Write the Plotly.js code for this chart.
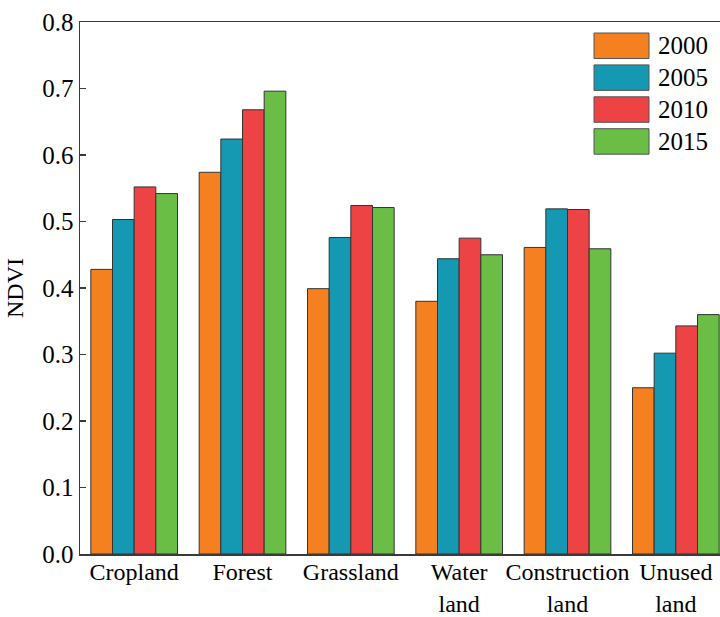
<!DOCTYPE html>
<html>
<head>
<meta charset="utf-8">
<script src="https://cdn.plot.ly/plotly-3.0.1.min.js"></script>
<style>
  html, body { margin: 0; padding: 0; overflow: hidden; background: #fff; }
  #chart { width: 740px; height: 617px; }
</style>
</head>
<body>
<div id="chart"></div>
<script>
// Land-use categories and mean NDVI per year
const categories = ['Cropland', 'Forest', 'Grassland', 'Water<br>land', 'Construction<br>land', 'Unused<br>land'];
const years = ['2000', '2005', '2010', '2015'];
const ndvi2000 = [0.428, 0.574, 0.399, 0.380, 0.461, 0.250];
const ndvi2005 = [0.503, 0.624, 0.476, 0.444, 0.519, 0.302];
const ndvi2010 = [0.552, 0.668, 0.524, 0.475, 0.518, 0.343];
const ndvi2015 = [0.542, 0.696, 0.521, 0.450, 0.459, 0.360];
const colors = ['#F5801F', '#1598B2', '#EE4345', '#6ABD45'];

const series = [ndvi2000, ndvi2005, ndvi2010, ndvi2015];
const FONT = '"Liberation Serif", "Times New Roman", serif';
const AXIS = '#3a3a3a';

const traces = series.map((vals, i) => ({
  type: 'bar',
  name: years[i],
  x: categories,
  y: vals,
  marker: { color: colors[i], line: { color: '#333', width: 1 } },
  showlegend: false,
  hoverinfo: 'x+y+name'
}));

// Legend with large swatches, placed in pixel terms inside the plot box
const W = 740, H = 617, M = { l: 80, r: 10, t: 22, b: 63 };
const pw = W - M.l - M.r, ph = H - M.t - M.b;
const px = x => (x - M.l) / pw;
const py = y => 1 - (y - M.t) / ph;

const shapes = [];
const annotations = [];
years.forEach((yr, i) => {
  const top = 33 + i * 31.9;
  shapes.push({
    type: 'rect', xref: 'paper', yref: 'paper',
    x0: px(594), x1: px(649), y0: py(top), y1: py(top + 25.5),
    fillcolor: colors[i], line: { color: '#555', width: 1 }
  });
  annotations.push({
    xref: 'paper', yref: 'paper', x: px(656), y: py(top + 12.8),
    xanchor: 'left', yanchor: 'middle', showarrow: false,
    text: yr, font: { family: FONT, size: 25, color: '#000' }
  });
});

const layout = {
  width: W, height: H,
  margin: M,
  paper_bgcolor: '#fff', plot_bgcolor: '#fff',
  barmode: 'group', bargap: 0.2, bargroupgap: 0,
  font: { family: FONT, size: 25, color: '#000' },
  xaxis: {
    range: [-0.5, 5.5],
    showline: true, linecolor: AXIS, linewidth: 1.5, mirror: true,
    ticks: '', showgrid: false, zeroline: false,
    tickfont: { family: FONT, size: 24, color: '#000' },
    tickangle: 0, ticklabelstandoff: -4
  },
  yaxis: {
    range: [0, 0.8], dtick: 0.1, tickformat: '.1f',
    showline: true, linecolor: AXIS, linewidth: 1.5, mirror: true,
    ticks: 'inside', ticklen: 6, tickwidth: 1.5, tickcolor: AXIS,
    showgrid: false, zeroline: false,
    tickfont: { family: FONT, size: 25, color: '#000' },
    title: { text: 'NDVI', font: { family: FONT, size: 24, color: '#000' }, standoff: 12 }
  },
  shapes: shapes,
  annotations: annotations
};

Plotly.newPlot('chart', traces, layout, { displayModeBar: false, staticPlot: true });
</script>
</body>
</html>
